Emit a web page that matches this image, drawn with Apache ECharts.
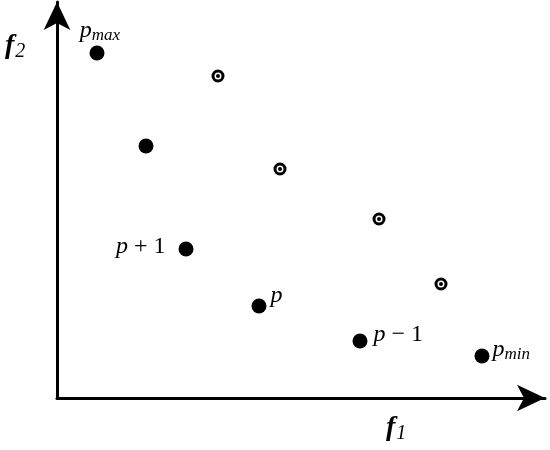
<!DOCTYPE html>
<html>
<head>
<meta charset="utf-8">
<script src="https://cdn.jsdelivr.net/npm/echarts@6/dist/echarts.min.js"></script>
<style>
  html, body { margin: 0; padding: 0; background: #fff; }
  #main { width: 550px; height: 450px; }
</style>
</head>
<body>
<div id="main"></div>
<script>
// solution points (filled dots)
var solidX = [40, 89, 129, 202, 303, 425];
var solidY = [345, 252, 149, 92, 57, 42];
var solidLabels = ['{i|p}{s|max}', '', '{i|p} {n|+ 1}', '{i|p}', '{i|p} {n|− 1}', '{i|p}{s|min}'];
// circled points
var ringX = [161, 223, 322, 384];
var ringY = [322, 229, 179, 114];

var labelPos = ['top', 'right', 'left', 'right', 'right', 'right'];
var labelOff = [[3, 5], [0, 0], [-7, -2], [-2, -10], [0, -6], [-3, -6]];

var SERIF = 'Liberation Serif';

var chart = echarts.init(document.getElementById('main'));

var rich = {
  i: { fontFamily: SERIF, fontStyle: 'italic', fontSize: 24, color: '#000' },
  n: { fontFamily: SERIF, fontStyle: 'normal', fontSize: 24, color: '#000' },
  s: { fontFamily: SERIF, fontStyle: 'italic', fontSize: 17, color: '#000', padding: [10, 0, 0, 0] }
};

var solidData = solidX.map(function (x, k) {
  return {
    value: [x, solidY[k]],
    label: {
      show: solidLabels[k] !== '',
      formatter: solidLabels[k],
      position: labelPos[k],
      offset: labelOff[k],
      distance: 6,
      fontFamily: SERIF,
      fontStyle: 'italic',
      fontSize: 24,
      color: '#000',
      rich: rich
    }
  };
});
var ringData = ringX.map(function (x, k) { return [x, ringY[k]]; });

var axisStyle = {
  axisLine: { lineStyle: { color: '#000', width: 3 }, symbol: ['none', 'arrow'], symbolSize: [20, 28] },
  axisTick: { show: false }, axisLabel: { show: false }, splitLine: { show: false }
};

var bold = {
  b: { fontFamily: SERIF, fontStyle: 'italic', fontWeight: 'bold', fontSize: 28, fill: '#000' },
  sb: { fontFamily: SERIF, fontStyle: 'italic', fontWeight: 'normal', fontSize: 20, fill: '#000', padding: [12, 0, 0, 1] }
};

chart.setOption({
  animation: false,
  backgroundColor: '#fff',
  textStyle: { fontFamily: SERIF },
  grid: { left: 57, right: 5, top: 2, bottom: 52 },
  xAxis: Object.assign({ type: 'value', min: 0, max: 488 }, axisStyle),
  yAxis: Object.assign({ type: 'value', min: 0, max: 396 }, axisStyle),
  graphic: [
    { type: 'text', left: 5, top: 32, style: { text: '{b|f}{sb|2}', fontFamily: SERIF, fontStyle: 'italic', fontWeight: 'bold', fontSize: 28, rich: bold } },
    { type: 'text', left: 386, top: 414, style: { text: '{b|f}{sb|1}', fontFamily: SERIF, fontStyle: 'italic', fontWeight: 'bold', fontSize: 28, rich: bold } }
  ],
  series: [
    {
      type: 'scatter', data: solidData, symbol: 'circle', symbolSize: 15,
      itemStyle: { color: '#000', opacity: 1 }
    },
    {
      type: 'scatter', data: ringData, symbol: 'circle', symbolSize: 10,
      itemStyle: { color: '#fff', borderColor: '#000', borderWidth: 3, opacity: 1 }
    },
    {
      type: 'scatter', data: ringData, symbol: 'circle', symbolSize: 4,
      itemStyle: { color: '#000', opacity: 1 }
    }
  ]
});
</script>
</body>
</html>
